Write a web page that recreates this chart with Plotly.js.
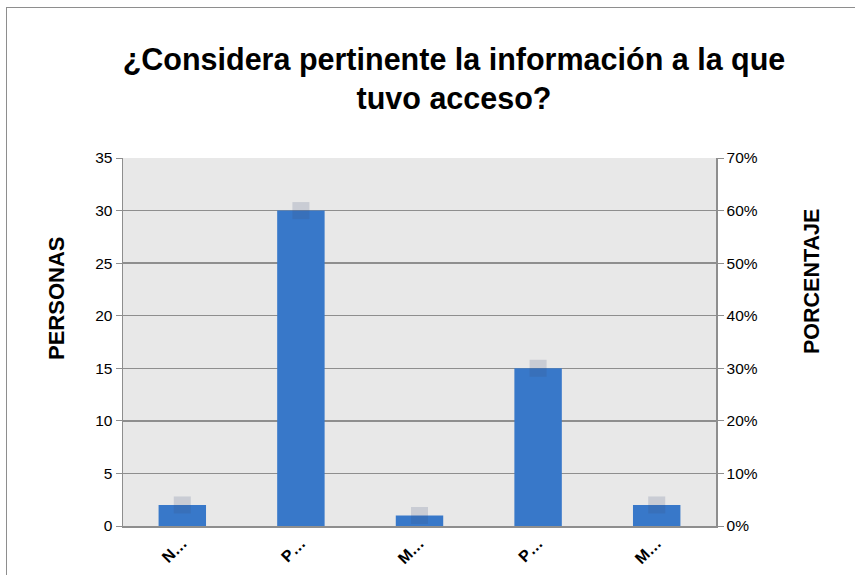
<!DOCTYPE html>
<html>
<head>
<meta charset="utf-8">
<script src="https://cdn.plot.ly/plotly-3.0.1.min.js"></script>
<style>
body{margin:0;padding:0;background:#fff;overflow:hidden;}
#wrap{position:relative;width:855px;height:575px;overflow:hidden;}
#chart{position:absolute;left:0;top:0;width:855px;height:575px;}
#frame{position:absolute;left:6px;top:7px;width:860px;height:580px;border:1.5px solid #8e8e8e;pointer-events:none;}
</style>
</head>
<body>
<div id="wrap"><div id="chart"></div><div id="frame"></div></div>
<script>
const categories = ['N…', 'P…', 'M…', 'P…', 'M…'];
const personas = [2, 30, 1, 15, 2];
const porcentaje = [0.04, 0.60, 0.02, 0.30, 0.04];

const xs = categories.map((c, i) => i);

const traces = [
  {
    type: 'bar', x: xs, y: personas, name: 'PERSONAS',
    width: 0.4,
    marker: {color: '#3878c9', line: {width: 0}},
    hoverinfo: 'y'
  },
  {
    type: 'scatter', mode: 'markers', x: xs, y: porcentaje, yaxis: 'y2', name: 'PORCENTAJE',
    marker: {symbol: 'square', size: 17, color: 'rgba(60,80,120,0.18)', line: {width: 0}},
    hoverinfo: 'y'
  }
];

const layout = {
  width: 855, height: 575,
  margin: {l: 123, r: 139, t: 158, b: 49},
  paper_bgcolor: 'rgba(0,0,0,0)',
  plot_bgcolor: '#e8e8e8',
  showlegend: false,
  font: {family: 'Liberation Sans, Arial, sans-serif', color: '#000'},
  title: {
    text: '<b>¿Considera pertinente la información a la que<br>tuvo acceso?</b>',
    font: {size: 30.5, family: 'Liberation Sans, Arial, sans-serif', color: '#000'},
    x: 0.531, xanchor: 'center', y: 0.879, yanchor: 'middle'
  },
  xaxis: {
    range: [-0.5, 4.5],
    tickvals: xs, ticktext: categories.map(c => '<b>' + c + '</b>'),
    tickangle: -45,
    tickfont: {size: 16, color: '#000'},
    showgrid: false, zeroline: false,
    showline: true, linecolor: '#8e8e8e', linewidth: 1.5,
    ticks: ''
  },
  yaxis: {
    range: [0, 35], dtick: 5,
    tickfont: {size: 15.5, color: '#000'},
    showgrid: true, gridcolor: '#8e8e8e', gridwidth: 1.5,
    zeroline: false,
    showline: true, linecolor: '#8e8e8e', linewidth: 1.5,
    ticks: 'outside', ticklen: 6, tickcolor: '#8e8e8e'
  },
  yaxis2: {
    range: [0, 0.7], dtick: 0.1, tickformat: '.0%',
    overlaying: 'y', side: 'right',
    tickfont: {size: 15.5, color: '#000'},
    showgrid: false, zeroline: false,
    showline: true, linecolor: '#8e8e8e', linewidth: 1.5,
    ticks: 'outside', ticklen: 6, tickcolor: '#8e8e8e'
  },
  annotations: [
    {
      text: '<b>PERSONAS</b>', textangle: -90, showarrow: false,
      xref: 'paper', yref: 'paper', xanchor: 'center', yanchor: 'middle',
      x: (56 - 123) / 593, y: (526 - 299) / 368,
      font: {size: 22, color: '#000'}
    },
    {
      text: '<b>PORCENTAJE</b>', textangle: -90, showarrow: false,
      xref: 'paper', yref: 'paper', xanchor: 'center', yanchor: 'middle',
      x: (812 - 123) / 593, y: (526 - 282) / 368,
      font: {size: 21.5, color: '#000'}
    }
  ]
};

Plotly.newPlot('chart', traces, layout, {displayModeBar: false, staticPlot: true});
</script>
</body>
</html>
